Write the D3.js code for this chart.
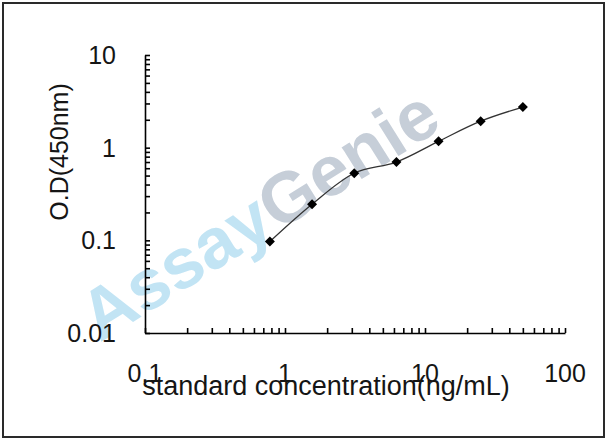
<!DOCTYPE html>
<html>
<head>
<meta charset="utf-8">
<script src="https://cdn.jsdelivr.net/npm/d3@7"></script>
<style>
  html, body { margin: 0; padding: 0; background: #fff; }
  svg { display: block; font-family: "Liberation Sans", Arial, sans-serif; }
</style>
</head>
<body>
<svg id="chart" width="608" height="441"></svg>
<script>
// standard curve values
const concentrations = [0.78, 1.56, 3.125, 6.25, 12.5, 25, 50];
const odValues = [0.097, 0.245, 0.53, 0.70, 1.17, 1.93, 2.74];
const xTickValues = [0.1, 1, 10, 100];
const xTickLabels = ["0.1", "1", "10", "100"];
const yTickValues = [0.01, 0.1, 1, 10];
const yTickLabels = ["0.01", "0.1", "1", "10"];

const svg = d3.select("#chart");

// outer frame
svg.append("rect")
  .attr("x", 3).attr("y", 3)
  .attr("width", 601).attr("height", 434)
  .attr("fill", "#fff")
  .attr("stroke", "#2a2a2a")
  .attr("stroke-width", 2);

let x = d3.scaleLog().domain([0.1, 100]).range([145, 565]);
let y = d3.scaleLog().domain([0.01, 10]).range([333, 55]);

// watermark
let wm = svg.append("text")
  .attr("transform", "translate(259,214) rotate(-32)")
  .attr("text-anchor", "middle")
  .attr("dy", "0.35em")
  .attr("font-size", 71)
  .attr("font-weight", "bold");
wm.append("tspan").attr("fill", "#c2e4f4").text("Assay");
wm.append("tspan").attr("fill", "#c6ced8").text("Genie");

// minor ticks on every decade
let minorX = [];
let minorY = [];
for (let e = -2; e <= 2; e++) {
  for (let m = 1; m <= 9; m++) {
    let v = m * Math.pow(10, e);
    if (v >= 0.1 && v <= 100) minorX.push(v);
    if (v >= 0.01 && v <= 10) minorY.push(v);
  }
}

let xAxis = d3.axisBottom(x).tickValues(minorX).tickSizeInner(-5).tickSizeOuter(0).tickFormat("");
let yAxis = d3.axisLeft(y).tickValues(minorY).tickSizeInner(-5).tickSizeOuter(0).tickFormat("");

svg.append("g")
  .attr("transform", "translate(0,333)")
  .call(xAxis)
  .call(g => g.selectAll("path, line").attr("stroke", "#000").attr("stroke-width", 1.6));

svg.append("g")
  .attr("transform", "translate(145,0)")
  .call(yAxis)
  .call(g => g.selectAll("path, line").attr("stroke", "#000").attr("stroke-width", 1.6));

// tick labels
svg.append("g").selectAll("text")
  .data(xTickValues)
  .join("text")
  .attr("x", d => x(d))
  .attr("y", 382)
  .attr("text-anchor", "middle")
  .attr("font-size", 25)
  .attr("fill", "#151515")
  .text((d, i) => xTickLabels[i]);

svg.append("g").selectAll("text")
  .data(yTickValues)
  .join("text")
  .attr("x", 116)
  .attr("y", d => y(d) + 9)
  .attr("text-anchor", "end")
  .attr("font-size", 25)
  .attr("fill", "#151515")
  .text((d, i) => yTickLabels[i]);

// axis titles (they overlap the x tick labels in the original too)
svg.append("text")
  .attr("x", 326)
  .attr("y", 395)
  .attr("text-anchor", "middle")
  .attr("font-size", 27)
  .attr("fill", "#151515")
  .text("standard concentration(ng/mL)");

svg.append("text")
  .attr("transform", "translate(68,152) rotate(-90)")
  .attr("text-anchor", "middle")
  .attr("font-size", 25)
  .attr("fill", "#151515")
  .text("O.D(450nm)");

// smoothed line
let line = d3.line()
  .x((d, i) => x(concentrations[i]))
  .y(d => y(d))
  .curve(d3.curveCatmullRom.alpha(0.5));

svg.append("path")
  .datum(odValues)
  .attr("d", line)
  .attr("fill", "none")
  .attr("stroke", "#333")
  .attr("stroke-width", 1.3);

// diamond markers
svg.append("g").selectAll("path")
  .data(odValues)
  .join("path")
  .attr("transform", (d, i) => `translate(${x(concentrations[i])},${y(d)}) rotate(45)`)
  .attr("d", d3.symbol(d3.symbolSquare, 50))
  .attr("fill", "#000");
</script>
</body>
</html>
